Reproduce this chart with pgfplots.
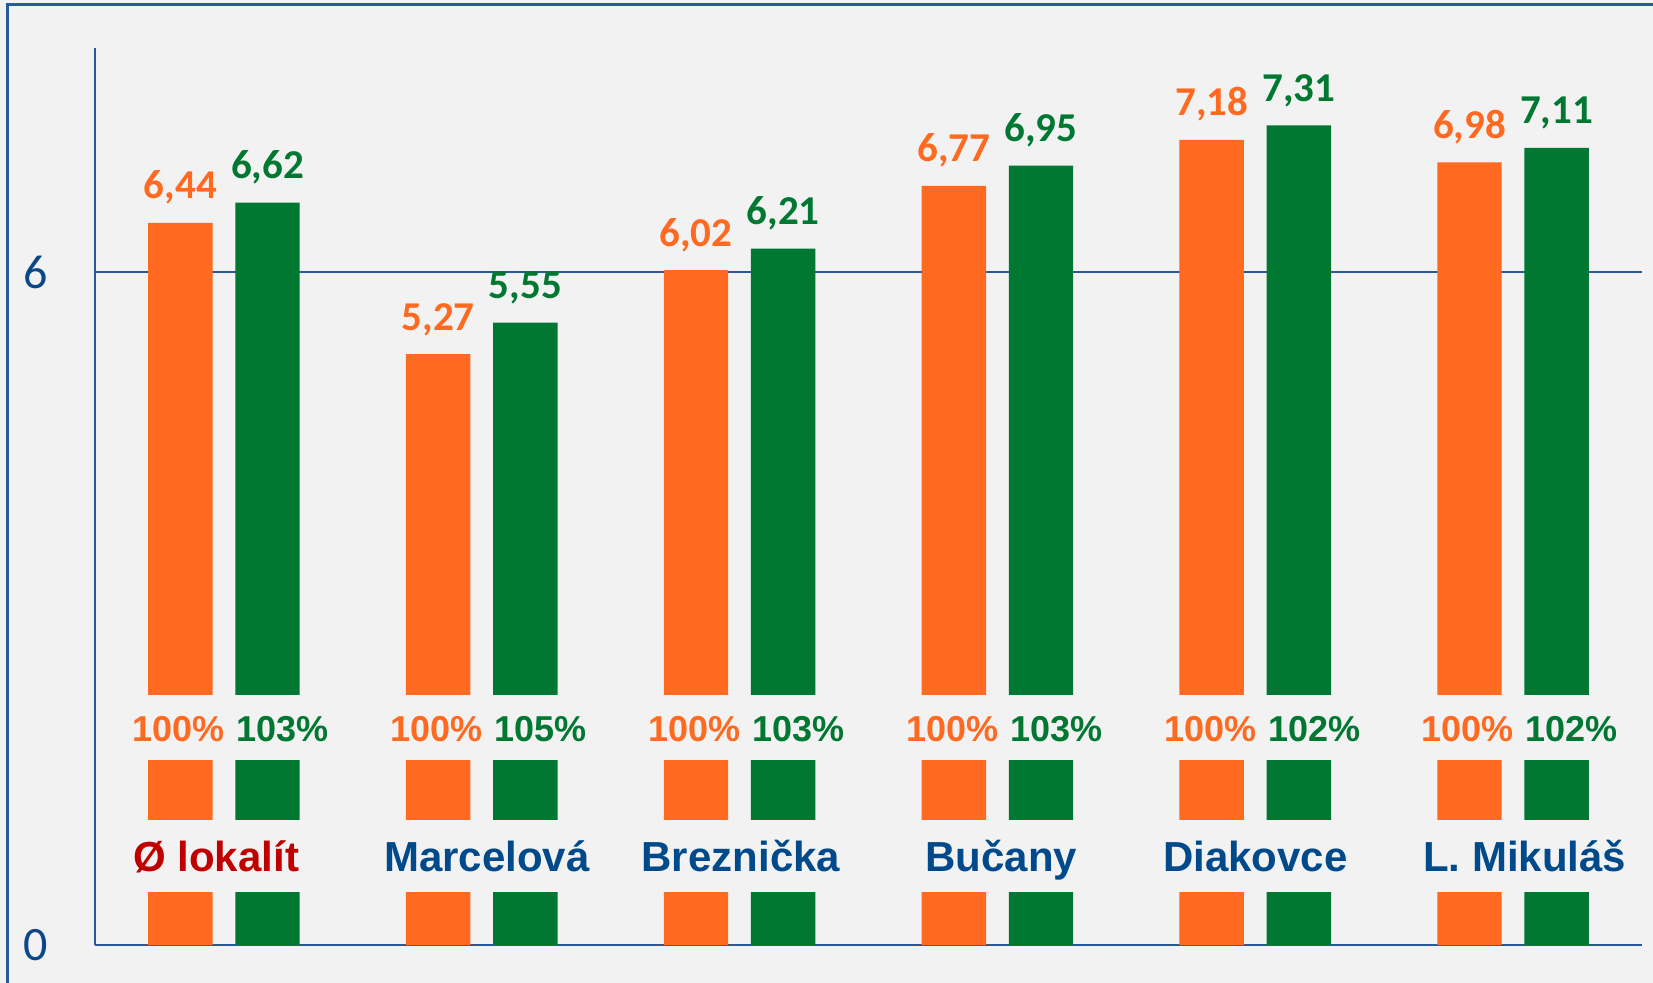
\documentclass[border=0pt]{standalone}
\usepackage{fontspec}
\setmainfont{Carlito}
\newfontfamily\arial{Liberation Sans}
\usepackage{pgfplots}
\pgfplotsset{compat=1.18}
\definecolor{bgc}{RGB}{242,242,242}
\definecolor{cor}{RGB}{255,105,32}
\definecolor{cgr}{RGB}{0,120,50}
\definecolor{cax}{RGB}{40,90,155}
\definecolor{ctick}{RGB}{12,72,135}
\definecolor{cname}{RGB}{0,74,139}
\definecolor{cred}{RGB}{192,0,0}
\begin{document}
\begin{tikzpicture}
\fill[bgc] (-47.5bp,-19bp) rectangle (779bp,472.5bp);
\draw[cax, line width=1.5bp] (779bp,470bp) -- (-43.5bp,470bp) -- (-43.5bp,-19bp);
\begin{axis}[
  at={(0,0)}, anchor=south west,
  scale only axis, width=773.5bp, height=448.5bp,
  xmin=-0.5, xmax=5.5, ymin=0, ymax=8,
  axis x line*=bottom, axis y line*=left,
  axis line style={cax, line width=1bp},
  xtick=\empty,
  ytick={0,6}, yticklabels={0,6},
  yticklabel style={anchor=east, inner sep=0pt, xshift=-23.5bp, text=ctick, font=\fontsize{24bp}{28bp}\selectfont},
  tick align=inside, major tick length=7.5bp,
  tick style={cax, line width=1bp},
  ymajorgrids, grid style={cax, line width=0.9bp},
  clip=false,
]
% bars (x = group index -/+ 0.169)
\addplot[ybar, bar width=0.25, bar shift=0, fill=cor, draw=none,
  nodes near coords, point meta=explicit symbolic,
  nodes near coords style={anchor=base, inner sep=0pt, yshift=12bp, text=cor, font=\bfseries\fontsize{20.5bp}{24bp}\selectfont}]
  table[row sep=\\, meta=lab] {x y lab\\ -0.169 6.44 6,44\\ 0.831 5.27 5,27\\ 1.831 6.02 6,02\\ 2.831 6.77 6,77\\ 3.831 7.18 7,18\\ 4.831 6.98 6,98\\};
\addplot[ybar, bar width=0.25, bar shift=0, fill=cgr, draw=none,
  nodes near coords, point meta=explicit symbolic,
  nodes near coords style={anchor=base, inner sep=0pt, yshift=12bp, text=cgr, font=\bfseries\fontsize{20.5bp}{24bp}\selectfont}]
  table[row sep=\\, meta=lab] {x y lab\\ 0.169 6.62 6,62\\ 1.169 5.55 5,55\\ 2.169 6.21 6,21\\ 3.169 6.95 6,95\\ 4.169 7.31 7,31\\ 5.169 7.11 7,11\\};
% background bands across the bars
\fill[bgc] (axis cs:-0.45,0.472) rectangle (axis cs:5.45,1.114);
\fill[bgc] (axis cs:-0.45,1.649) rectangle (axis cs:5.45,2.228);
% percentage labels
\addplot[draw=none, mark=none,
  nodes near coords={\pgfplotspointmeta\%}, point meta=explicit symbolic,
  nodes near coords style={anchor=base east, inner sep=0pt, text=cor, font=\arial\bfseries\fontsize{18bp}{22bp}\selectfont}]
  table[row sep=\\, meta=lab] {x y lab\\ 0.005 1.818 100\\ 1.005 1.818 100\\ 2.005 1.818 100\\ 3.005 1.818 100\\ 4.005 1.818 100\\ 5.005 1.818 100\\};
\addplot[draw=none, mark=none,
  nodes near coords={\pgfplotspointmeta\%}, point meta=explicit symbolic,
  nodes near coords style={anchor=base west, inner sep=0pt, text=cgr, font=\arial\bfseries\fontsize{18bp}{22bp}\selectfont}]
  table[row sep=\\, meta=lab] {x y lab\\ 0.048 1.818 103\\ 1.048 1.818 105\\ 2.048 1.818 103\\ 3.048 1.818 103\\ 4.048 1.818 102\\ 5.048 1.818 102\\};
% category names
\addplot[draw=none, mark=none,
  nodes near coords, point meta=explicit symbolic,
  nodes near coords style={anchor=base, inner sep=0pt, text=cred, font=\arial\bfseries\fontsize{21bp}{25bp}\selectfont}]
  table[row sep=\\, col sep=comma, meta=name] {x,y,name\\ -0.03,0.653,Ø lokalít\\};
\addplot[draw=none, mark=none,
  nodes near coords, point meta=explicit symbolic,
  nodes near coords style={anchor=base, inner sep=0pt, text=cname, font=\arial\bfseries\fontsize{21bp}{25bp}\selectfont}]
  table[row sep=\\, col sep=comma, meta=name] {x,y,name\\ 1.02,0.653,Marcelová\\ 2.005,0.653,Breznička\\ 3.015,0.653,Bučany\\ 4,0.653,Diakovce\\ 5.045,0.653,L. Mikuláš\\};
\end{axis}
\pgfresetboundingbox
\useasboundingbox (-47.5bp,-19bp) rectangle (779bp,472.5bp);
\end{tikzpicture}
\end{document}
